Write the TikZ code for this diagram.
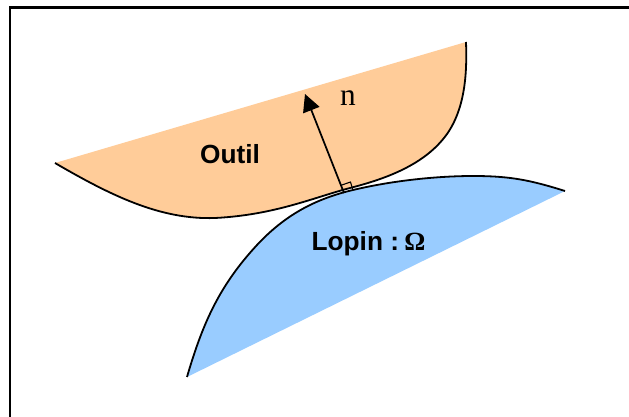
\documentclass[tikz,border=0pt]{standalone}
\usepackage{fontspec}
\setmainfont{Liberation Sans}
\newfontfamily\serifface{Liberation Serif}
\usetikzlibrary{arrows.meta}
\tikzset{
  px/.style={x=0.75pt,y=-0.75pt},
  shapeline/.style={draw=black,line width=1.35pt,line join=round},
  lbl/.style={font=\bfseries\fontsize{19.7}{22}\selectfont,text=black,inner sep=0pt}
}
\definecolor{tool}{HTML}{FFCC99}
\definecolor{blank}{HTML}{99CCFF}
\begin{document}
\begin{tikzpicture}[px]
\useasboundingbox (0,0) rectangle (629,417);
\fill[white] (0,0) rectangle (629,417);
\draw[black,line width=1.6pt] (10,417) -- (10,7.5) -- (629,7.5);
% Outil
\fill[tool] (55,163) .. controls (110,195) and (160,220) .. (215,218) .. controls (275,215) and (315,197) .. (350,188) .. controls (385,179) and (425,165) .. (447,134) .. controls (466,107) and (467,70) .. (466,42) -- cycle;
\draw[shapeline] (55,163) .. controls (110,195) and (160,220) .. (215,218) .. controls (275,215) and (315,197) .. (350,188) .. controls (385,179) and (425,165) .. (447,134) .. controls (466,107) and (467,70) .. (466,42);
% Lopin
\fill[blank] (187,377) .. controls (203,322) and (220,285) .. (257,245) .. controls (285,215) and (315,199) .. (353,190) .. controls (395,180) and (440,176) .. (473,176) .. controls (510,176) and (530,180) .. (565,191) -- cycle;
\draw[shapeline] (187,377) .. controls (203,322) and (220,285) .. (257,245) .. controls (285,215) and (315,199) .. (353,190) .. controls (395,180) and (440,176) .. (473,176) .. controls (510,176) and (530,180) .. (565,191);
\coordinate (foot) at (344,193);
\coordinate (tip) at (305,94);
\draw[line width=1.3pt,-{Triangle[length=13pt,width=13pt]}] (foot) -- (tip);
\draw[line width=0.8pt] (340.5,185.5) -- (350.5,182) -- (353,190.5);
\node[lbl] (outil) at (230,154) {Outil};
\node[lbl] (lopin) at (368.5,244) {Lopin :\hspace{0.2em}{\serifface Ω}};
\node[inner sep=0pt,font=\serifface\fontsize{23.5}{26}\selectfont] (n) at (348,98) {n};
\end{tikzpicture}
\end{document}
